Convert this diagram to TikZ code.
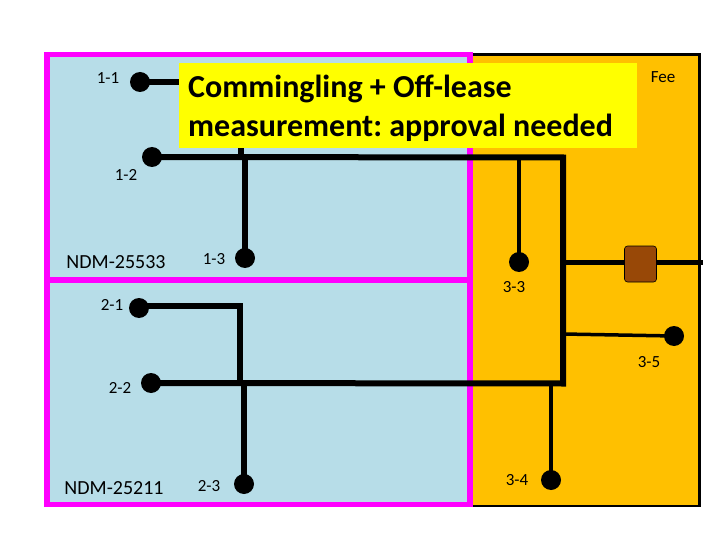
\documentclass[tikz,border=0pt]{standalone}
\usepackage{fontspec}
\setmainfont{Carlito}
\usepackage{xcolor}
\definecolor{leaseblue}{HTML}{B7DDE8}
\definecolor{feeorange}{HTML}{FFC000}
\definecolor{unitmagenta}{HTML}{FF00FF}
\definecolor{meterbrown}{HTML}{984807}
\definecolor{noteyellow}{HTML}{FFFF00}
\begin{document}
\begin{tikzpicture}[x=1pt, y=-1pt,
    welldot/.style={circle, fill=black, inner sep=0pt, minimum size=20pt},
    welllabel/.style={font=\fontsize{17}{17}\selectfont, inner sep=0pt},
    unitlabel/.style={font=\fontsize{20}{20}\selectfont, inner sep=0pt},
    pipe/.style={line width=6pt},
    thinpipe/.style={line width=4pt}]
\useasboundingbox (0,0) rectangle (720,540);
\fill[white] (0,0) rectangle (720,540);
\draw[black, line width=2.5pt, fill=feeorange] (470,54.5) rectangle (699.5,506);
\fill[leaseblue] (47,54.5) rectangle (470,504.5);
\draw[unitmagenta, line width=5.5pt] (47,54.5) rectangle (470,280);
\draw[unitmagenta, line width=5.5pt] (47,280) rectangle (470,504.5);
\foreach \p/\x/\y in {w11/140/82, w12/152/157, w13/245/258, w21/139/308, w22/151/383,
    w23/244/484, w33/519/262, w34/551/480, w35/674/336}{
    \node[welldot] (\p) at (\x,\y) {};
}
\coordinate (C) at (563,157.5);
\coordinate (D) at (563,383.5);
\coordinate (E) at (241,157.5);
\coordinate (F) at (240,305.5);
\coordinate (G) at (240,383.5);
\coordinate (H) at (563,262.5);
\coordinate (J) at (703,262.5);
\coordinate (K) at (563,334);
\draw[pipe, line cap=square] (w12.center) -- (C) -- (D) -- (w22.center);
\draw[pipe] (w21.center |- F) -- (F) -- (G);
\draw[pipe] (w13.center |- C) -- (w13.center);
\draw[pipe] (w23.center |- D) -- (w23.center);
\draw[thinpipe] (w33.center |- C) -- (w33.center);
\draw[thinpipe] (w34.center |- D) -- (w34.center);
\draw[line width=3.5pt] (K) -- (w35.center);
\draw[line width=5pt] (H) -- (J);
\node[draw=black, line width=0.6pt, fill=meterbrown, rounded corners=3pt, minimum width=32pt,
    minimum height=36pt, inner sep=0pt] (meter) at (640.5,264) {};
\node[fill=noteyellow, minimum width=458pt, minimum height=85pt, inner sep=0pt] (note) at (408,105.5) {};
\node[anchor=west, inner sep=0pt, align=left, font=\bfseries\frenchspacing\fontsize{32}{38.5}\selectfont] (notetext)
    at (188,108.5) {Commingling + Off-lease\\measurement: approval needed};
\draw[pipe] (w11.center) -- (note.west |- w11.center);
\draw[pipe] (E) -- (note.south -| E);
\foreach \t/\x/\y in {1-1/108/78, 1-2/126/175, 1-3/214/259, 2-1/112/305, 2-2/120/388,
    2-3/209/486, 3-3/514/287, 3-4/517/480, 3-5/649/362, Fee/663/77}{
    \node[welllabel] (lab\t) at (\x,\y) {\t};
}
\node[unitlabel] (unita) at (116,262) {NDM-25533};
\node[unitlabel] (unitb) at (114,488) {NDM-25211};
\end{tikzpicture}
\end{document}
